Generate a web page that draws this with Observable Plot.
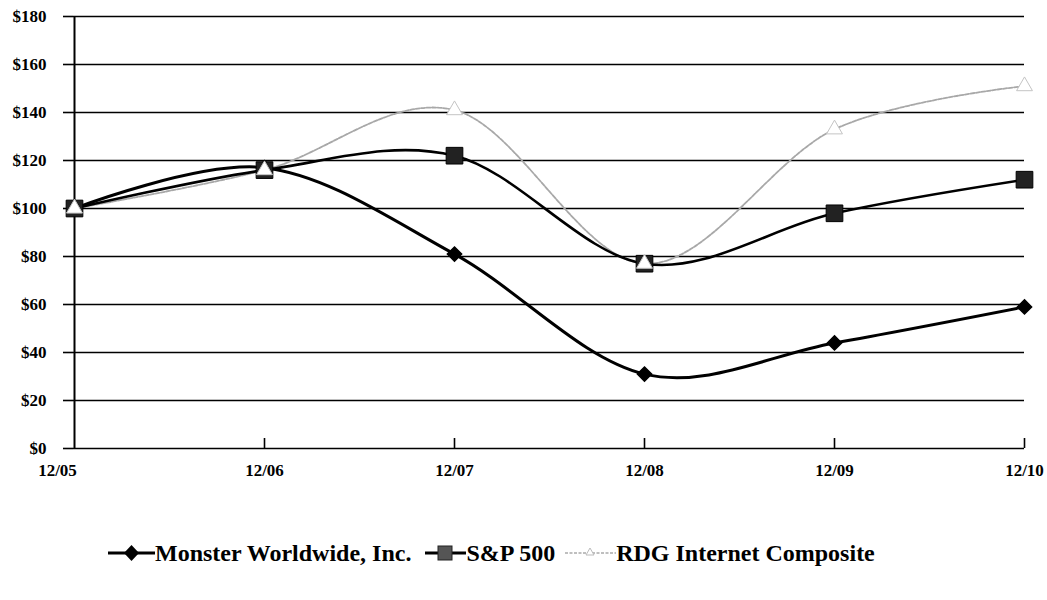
<!DOCTYPE html>
<html><head><meta charset="utf-8">
<script src="https://cdn.jsdelivr.net/npm/d3@7"></script>
<script src="https://cdn.jsdelivr.net/npm/@observablehq/plot@0.6"></script>
<style>
body{margin:0;background:#fff;font-family:"Liberation Serif","Times New Roman",serif;}
#chart svg{display:block;}
#legend{display:flex;align-items:center;height:26px;margin-top:50px;padding-left:108px;font-weight:bold;font-size:24px;color:#000;white-space:nowrap;}
.item{display:flex;align-items:center;}
.item svg{display:block;}
</style></head><body>
<div id="chart"></div>
<div id="legend"></div>
<script>
const periods = ["12/05","12/06","12/07","12/08","12/09","12/10"];
const monster = [100,117,81,31,44,59];
const sp500   = [100,116,122,77,98,112];
const rdg     = [100,116,141,77,133,151];
const yTicks  = [0,20,40,60,80,100,120,140,160,180];
const seriesNames = ["Monster Worldwide, Inc.","S&P 500","RDG Internet Composite"];

const rows = (vals) => periods.map((p,i)=>({p, v: vals[i]}));
const M = rows(monster), S = rows(sp500), R = rows(rdg);
const font = "Liberation Serif, Times New Roman, serif";

const chart = Plot.plot({
  width: 1047, height: 490,
  marginLeft: 73, marginRight: 23, marginTop: 16, marginBottom: 42,
  style: {fontFamily: font, background: "#fff"},
  x: {type: "point", domain: periods, padding: 0, axis: null},
  y: {domain: [0,180], axis: null},
  marks: [
    Plot.ruleY(yTicks, {stroke: "#000", strokeWidth: 1.6}),
    Plot.axisY({ticks: yTicks, label: null, tickSize: 10, tickPadding: 17, tickFormat: d => "$" + d,
      fontSize: 17, fontWeight: "bold", stroke: "#000", strokeWidth: 1.6, fill: "#000"}),
    Plot.ruleX([periods[0]], {stroke: "#000", strokeWidth: 2}),
    Plot.ruleX(periods.slice(1), {y1: 0, y2: 0, insetTop: -10, stroke: "#000", strokeWidth: 1.6}),
    Plot.text(periods.slice(0,1), {x: d => d, y: 0, dy: 22, dx: -17, text: d => d, fontSize: 17, fontWeight: "bold", fill: "#000"}),
    Plot.text(periods.slice(1), {x: d => d, y: 0, dy: 22, text: d => d, fontSize: 17, fontWeight: "bold", fill: "#000"}),
    Plot.line(R, {x: "p", y: "v", curve: "cardinal", tension: 0, stroke: "#a8a8a8", strokeWidth: 1.8, strokeDasharray: "4,1.5"}),
    Plot.line(S, {x: "p", y: "v", curve: "cardinal", tension: 0, stroke: "#000", strokeWidth: 2.6}),
    Plot.line(M, {x: "p", y: "v", curve: "cardinal", tension: 0, stroke: "#000", strokeWidth: 3}),
    Plot.dot(M, {x: "p", y: "v", symbol: "diamond2", r: 6.4, fill: "#000", stroke: "#000"}),
    Plot.dot(S, {x: "p", y: "v", symbol: "square", r: 9.4, fill: "#222", stroke: "#000", strokeWidth: 1}),
    Plot.dot(R, {x: "p", y: "v", symbol: "triangle", r: 5.9, fill: "#fff", stroke: "#c4c4c4", strokeWidth: 1})
  ]
});
document.getElementById("chart").appendChild(chart);

const leg = document.getElementById("legend");
const items = [
  {w: 47, gap: 0, svg: `<line x1="0" y1="13" x2="47" y2="13" stroke="#000" stroke-width="3"/><path d="M23.5 5 L31 13 L23.5 21 L16 13 Z" fill="#000"/>`},
  {w: 41, gap: 14, svg: `<line x1="0" y1="13" x2="41" y2="13" stroke="#000" stroke-width="3"/><rect x="13" y="6" width="14" height="14" fill="#555" stroke="#222"/>`},
  {w: 51, gap: 10, svg: `<line x1="0" y1="13" x2="51" y2="13" stroke="#aaa" stroke-width="1.5" stroke-dasharray="3,1.5"/><path d="M25 8 L29 15 L21 15 Z" fill="#fff" stroke="#bbb"/>`}
];
items.forEach((it, i) => {
  const d = document.createElement("div");
  d.className = "item";
  d.style.marginLeft = it.gap + "px";
  d.innerHTML = `<svg width="${it.w}" height="26">${it.svg}</svg><span>${seriesNames[i].replace("&","&amp;")}</span>`;
  leg.appendChild(d);
});
</script>
</body></html>
